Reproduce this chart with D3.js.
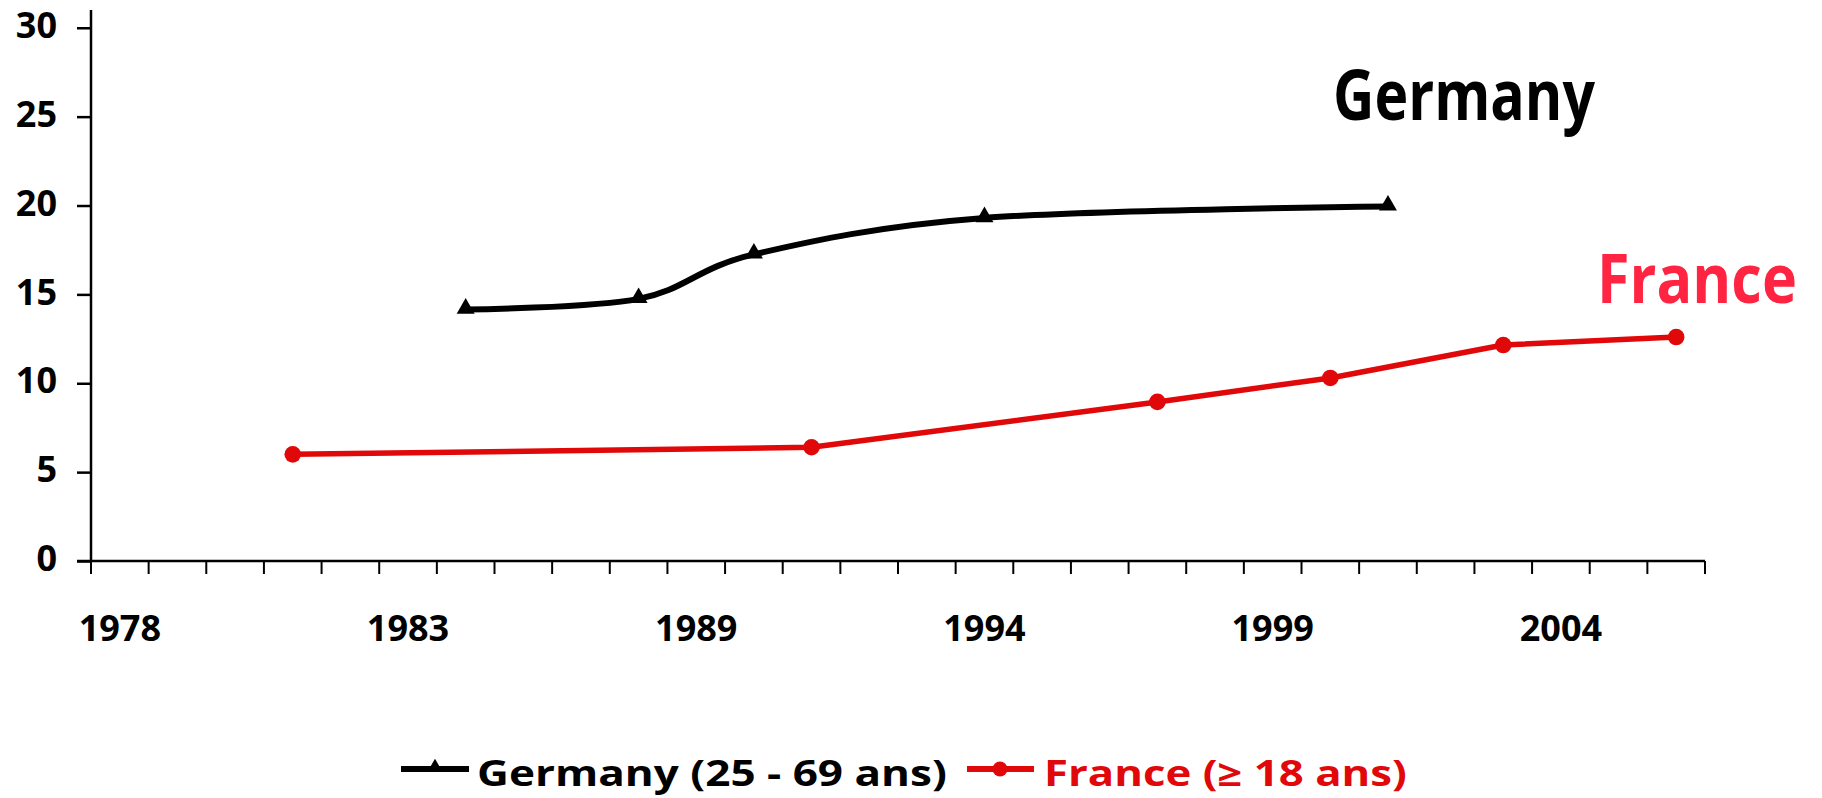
<!DOCTYPE html>
<html>
<head>
<meta charset="utf-8">
<script src="https://cdn.jsdelivr.net/npm/d3@7"></script>
<style>
  body { margin: 0; background: #fff; }
  text { font-family: "Comic Sans MS", "Open Sans", sans-serif; font-weight: bold; }
</style>
</head>
<body>
<div id="chart"></div>
<script>
var width = 1822, height = 798

// categories of the x axis (Excel category axis, label every 5th)
var years = [1978, 1979, 1980, 1981, 1982, 1983, 1984, 1985, 1986, 1988,
             1989, 1990, 1991, 1992, 1993, 1994, 1995, 1996, 1997, 1998,
             1999, 2000, 2001, 2002, 2003, 2004, 2005, 2006]
var yTicks = [0, 5, 10, 15, 20, 25, 30]

// Germany (25 - 69 ans)
var germanyYears = [1984, 1988, 1990, 1994, 2001]
var germanyValues = [14.15, 14.75, 17.25, 19.3, 19.95]

// France (>= 18 ans)
var franceYears = [1981, 1991, 1997, 2000, 2003, 2006]
var franceValues = [6.0, 6.4, 8.95, 10.3, 12.15, 12.6]

var germanyLabel = "Germany (25 - 69 ans)"
var franceLabel = "France (\u2265 18 ans)"

var svg = d3.select("#chart")
    .append("svg")
    .attr("width", width)
    .attr("height", height)

svg.append("rect").attr("width", width).attr("height", height).attr("fill", "#fff")

// scales
var x = d3.scaleBand()
    .domain(years)
    .range([91, 1705])
    .padding(0)
var y = d3.scaleLinear()
    .domain([0, 31])
    .range([561, 10])

var cx = function(yr) { return x(yr) + x.bandwidth() / 2 }

// fit a text horizontally to a given width (fallback font differs from Comic Sans)
function fitText(sel, px, py, w) {
    var natural = sel.node().getComputedTextLength()
    var k = w / natural
    sel.attr("transform", "translate(" + px + "," + py + ") scale(" + k + ",1)")
}

// y axis
var yAxis = svg.append("g")
    .attr("transform", "translate(91,0)")
    .call(d3.axisLeft(y).tickValues(yTicks).tickSize(14).tickPadding(20))
yAxis.select(".domain").remove()
yAxis.selectAll(".tick line").attr("stroke", "#000").attr("stroke-width", 2.5)
yAxis.selectAll(".tick text")
    .attr("fill", "#000")
    .attr("dy", "0.27em")
    .style("font-size", "36px")
svg.append("line")
    .attr("x1", 91).attr("x2", 91)
    .attr("y1", y(31)).attr("y2", y(0))
    .attr("stroke", "#000").attr("stroke-width", 2.5)

// x axis: ticks between categories, labels every 5th category
var bounds = years.map(function(d) { return x(d) }).concat([x.range()[1]])
svg.append("line")
    .attr("x1", 77).attr("x2", 1705)
    .attr("y1", y(0)).attr("y2", y(0))
    .attr("stroke", "#000").attr("stroke-width", 2.5)
svg.append("g").selectAll("line")
    .data(bounds)
    .enter().append("line")
    .attr("x1", function(d) { return d }).attr("x2", function(d) { return d })
    .attr("y1", y(0)).attr("y2", y(0) + 13)
    .attr("stroke", "#000").attr("stroke-width", 2)
svg.append("g").selectAll("text")
    .data(years.filter(function(d, i) { return i % 5 == 0 }))
    .enter().append("text")
    .attr("x", cx)
    .attr("y", 641)
    .attr("text-anchor", "middle")
    .style("font-size", "36px")
    .text(function(d) { return d })

// lines
var line = d3.line()
    .x(function(d) { return cx(d[0]) })
    .y(function(d) { return y(d[1]) })

var germany = d3.zip(germanyYears, germanyValues)
var france = d3.zip(franceYears, franceValues)

svg.append("path")
    .datum(france)
    .attr("fill", "none")
    .attr("stroke", "#e00808")
    .attr("stroke-width", 5.5)
    .attr("stroke-linejoin", "round")
    .attr("d", line)
svg.append("g").selectAll("circle")
    .data(france)
    .enter().append("circle")
    .attr("cx", function(d) { return cx(d[0]) })
    .attr("cy", function(d) { return y(d[1]) })
    .attr("r", 8.3)
    .attr("fill", "#e00808")

svg.append("path")
    .datum(germany)
    .attr("fill", "none")
    .attr("stroke", "#000")
    .attr("stroke-width", 6)
    .attr("stroke-linejoin", "round")
    .attr("d", line.curve(d3.curveCardinal.tension(0)))
var tri = d3.symbol().type(d3.symbolTriangle).size(140)
svg.append("g").selectAll("path")
    .data(germany)
    .enter().append("path")
    .attr("transform", function(d) { return "translate(" + cx(d[0]) + "," + (y(d[1]) - 1) + ")" })
    .attr("d", tri)
    .attr("fill", "#000")

// big labels
var gLab = svg.append("text")
    .style("font-size", "70px")
    .attr("fill", "#000")
    .text("Germany")
fitText(gLab, 1333, 120, 262)
var fLab = svg.append("text")
    .style("font-size", "68px")
    .attr("fill", "#ff2542")
    .text("France")
fitText(fLab, 1597, 303, 200)

// legend
var lg = svg.append("g")
lg.append("line")
    .attr("x1", 401).attr("x2", 469).attr("y1", 769).attr("y2", 769)
    .attr("stroke", "#000").attr("stroke-width", 6)
lg.append("path")
    .attr("transform", "translate(435,767)")
    .attr("d", d3.symbol().type(d3.symbolTriangle).size(90))
    .attr("fill", "#000")
var gLeg = lg.append("text")
    .style("font-size", "35px")
    .attr("fill", "#000")
    .text(germanyLabel)
fitText(gLeg, 477, 786, 470)
lg.append("line")
    .attr("x1", 967).attr("x2", 1034).attr("y1", 769).attr("y2", 769)
    .attr("stroke", "#e00808").attr("stroke-width", 6)
lg.append("circle")
    .attr("cx", 1000).attr("cy", 769).attr("r", 7.5)
    .attr("fill", "#e00808")
var fLeg = lg.append("text")
    .style("font-size", "35px")
    .attr("fill", "#e00808")
    .text(franceLabel)
fitText(fLeg, 1044, 786, 363)
</script>
</body>
</html>
